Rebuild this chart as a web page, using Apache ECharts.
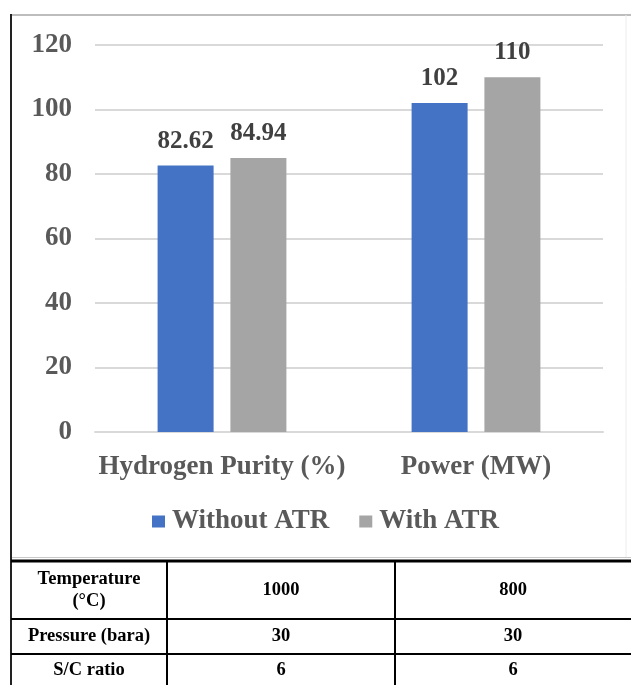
<!DOCTYPE html>
<html>
<head>
<meta charset="utf-8">
<script src="https://cdn.jsdelivr.net/npm/echarts@6/dist/echarts.min.js"></script>
<style>
  html, body { margin: 0; padding: 0; background: #ffffff; }
  #chart { width: 631px; height: 685px; }
</style>
</head>
<body>
<div id="chart"></div>
<script>
// Chart data
const categories = ['Hydrogen Purity (%)', 'Power (MW)'];
const withoutATR = [82.62, 102];
const withATR = [84.94, 110];
const yTicks = { min: 0, max: 120, interval: 20 };

// Operating conditions table below the chart
const tableRowHeads = [['Temperature', '(°C)'], ['Pressure (bara)'], ['S/C ratio']];
const tableColA = [1000, 30, 6];
const tableColB = [800, 30, 6];

const FONT = '"Liberation Serif", "Times New Roman", serif';

const chart = echarts.init(document.getElementById('chart'), null, { renderer: 'canvas' });

// Table geometry
const colX = [11, 167, 395, 631];
const rowY = [561, 619, 654, 690];

const graphics = [];
// frame of the chart panel
graphics.push({ type: 'line', shape: { x1: 11, y1: 15, x2: 631, y2: 15 }, style: { stroke: '#bdbdbd', lineWidth: 2 } });
graphics.push({ type: 'line', shape: { x1: 626, y1: 15, x2: 626, y2: 558 }, style: { stroke: '#ececec', lineWidth: 1 } });
graphics.push({ type: 'line', shape: { x1: 11, y1: 557.5, x2: 631, y2: 557.5 }, style: { stroke: '#c8c8c8', lineWidth: 1 } });
graphics.push({ type: 'line', shape: { x1: 11, y1: 14, x2: 11, y2: 690 }, style: { stroke: '#222222', lineWidth: 2 } });
// table grid
rowY.forEach((y, i) => {
  graphics.push({ type: 'line', shape: { x1: 11, y1: y, x2: 631, y2: y }, style: { stroke: '#000000', lineWidth: i === 0 ? 3 : 2 } });
});
[colX[1], colX[2]].forEach(x => {
  graphics.push({ type: 'line', shape: { x1: x, y1: rowY[0], x2: x, y2: 690 }, style: { stroke: '#000000', lineWidth: 2 } });
});
// table texts
tableRowHeads.forEach((lines, r) => {
  const cy = (rowY[r] + Math.min(rowY[r + 1], 687)) / 2;
  const cells = [lines.join('\n'), String(tableColA[r]), String(tableColB[r])];
  cells.forEach((txt, c) => {
    graphics.push({
      type: 'text',
      x: (colX[c] + colX[c + 1]) / 2,
      y: cy,
      style: {
        text: txt, fill: '#000000', font: 'bold 18.5px ' + FONT,
        align: 'center', verticalAlign: 'middle', lineHeight: 22
      }
    });
  });
});

const labelStyle = {
  show: true, position: 'top', distance: 12,
  color: '#404040', fontFamily: FONT, fontWeight: 'bold', fontSize: 25
};

chart.setOption({
  backgroundColor: '#ffffff',
  animation: false,
  grid: { left: 95, right: 28, top: 45, bottom: 253, containLabel: false },
  legend: {
    data: ['Without ATR', 'With ATR'],
    left: 147, top: 503,
    icon: 'rect', itemWidth: 13, itemHeight: 12, itemGap: 30,
    textStyle: { color: '#595959', fontFamily: FONT, fontWeight: 'bold', fontSize: 27, padding: [0, 0, 0, 2] }
  },
  xAxis: {
    type: 'category',
    data: categories,
    axisLine: { show: true, lineStyle: { color: '#d9d9d9', width: 2 } },
    axisTick: { show: false },
    axisLabel: { interval: 0, color: '#595959', fontFamily: FONT, fontWeight: 'bold', fontSize: 27, margin: 22 }
  },
  yAxis: {
    type: 'value',
    min: yTicks.min, max: yTicks.max, interval: yTicks.interval,
    axisLine: { show: false },
    axisTick: { show: false },
    axisLabel: { color: '#595959', fontFamily: FONT, fontWeight: 'bold', fontSize: 27, margin: 23 },
    splitLine: { lineStyle: { color: '#d9d9d9', width: 2 } }
  },
  series: [
    {
      name: 'Without ATR', type: 'bar', data: withoutATR,
      barWidth: 56, barGap: '30%',
      itemStyle: { color: '#4472C4' },
      label: labelStyle
    },
    {
      name: 'With ATR', type: 'bar', data: withATR,
      barWidth: 56,
      itemStyle: { color: '#A5A5A5' },
      label: labelStyle
    }
  ],
  graphic: graphics
});
</script>
</body>
</html>
